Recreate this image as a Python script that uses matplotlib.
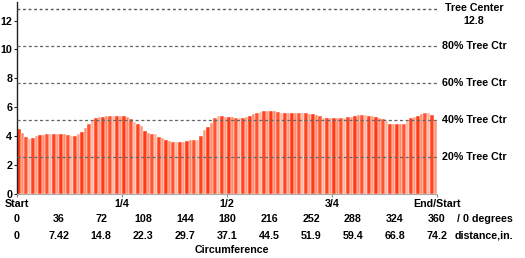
import matplotlib
matplotlib.use("Agg")
import matplotlib.pyplot as plt
import numpy as np

# ---- data ----
step_deg = 3
thickness = [4.46, 4.2, 3.9, 3.76, 3.85, 3.98, 4.04, 4.08, 4.1, 4.12,
             4.14, 4.15, 4.13, 4.1, 4.03, 3.99, 3.99, 4.1, 4.29, 4.55,
             4.85, 5.12, 5.24, 5.3, 5.34, 5.36, 5.37, 5.37, 5.36, 5.36,
             5.35, 5.3, 5.15, 4.98, 4.82, 4.66, 4.36, 4.18, 4.13, 4.1,
             3.95, 3.82, 3.74, 3.66, 3.61, 3.6, 3.6, 3.6, 3.65, 3.69,
             3.69, 3.72, 4.02, 4.38, 4.62, 4.9, 5.25, 5.36, 5.36, 5.34,
             5.3, 5.29, 5.26, 5.23, 5.22, 5.3, 5.4, 5.5, 5.58, 5.64,
             5.7, 5.73, 5.73, 5.73, 5.68, 5.6, 5.57, 5.57, 5.57, 5.57,
             5.58, 5.61, 5.58, 5.54, 5.5, 5.44, 5.38, 5.25, 5.22, 5.22,
             5.22, 5.22, 5.23, 5.27, 5.3, 5.33, 5.38, 5.44, 5.45, 5.45,
             5.4, 5.35, 5.32, 5.26, 5.2, 5.0, 4.83, 4.83, 4.83, 4.83,
             4.85, 5.05, 5.22, 5.28, 5.35, 5.5, 5.6, 5.62, 5.45, 5.0]
tree_center = 12.8
pct_levels = [80, 60, 40, 20]
pct_labels = ["80% Tree Ctr", "60% Tree Ctr", "40% Tree Ctr", "20% Tree Ctr"]
quarter_pos = [0, 90, 180, 270, 360]
quarter_labels = ["Start", "1/4", "1/2", "3/4", "End/Start"]
deg_ticks = [0, 36, 72, 108, 144, 180, 216, 252, 288, 324, 360]
dist_labels = ["0", "7.42", "14.8", "22.3", "29.7", "37.1", "44.5", "51.9", "59.4", "66.8", "74.2"]
yticks = [0, 2, 4, 6, 8, 10, 12]

plt.rcParams['font.family'] = ['Liberation Sans', 'DejaVu Sans']
plt.rcParams['font.weight'] = 'bold'
fs = 7.7

W, H = 525, 258
fig = plt.figure(figsize=(W / 100, H / 100), dpi=100)
x0, x1 = 17, 437
ybot, ytop = 193.5, 2
ax = fig.add_axes([x0 / W, 1 - ybot / H, (x1 - x0) / W, (ybot - ytop) / H])

deg = np.arange(len(thickness)) * step_deg
shades = ['#ff3a14', '#ff8c6e', '#ff5530', '#ffb4a0', '#ff4420', '#ff9a80']
cols = [shades[i % len(shades)] for i in range(len(thickness))]
ax.bar(deg, thickness, width=step_deg, align='edge', color=cols,
       edgecolor='white', linewidth=0.3, zorder=2)

ax.set_xlim(0, 360)
ax.set_ylim(0, (ybot - ytop) / 14.4)

# reference lines
ax.axhline(tree_center, color='#555555', lw=1.0, ls=(0, (2, 2)), zorder=3)
for p in pct_levels:
    ax.axhline(tree_center * p / 100, color='#666666', lw=0.9, ls=(0, (2.5, 2)), zorder=3)

lab_x = (442 - x0) / (x1 - x0) * 360
ctr_x = (474 - x0) / (x1 - x0) * 360
ax.text(ctr_x, tree_center + 0.05, "Tree Center", ha='center', va='center',
        fontsize=fs, clip_on=False)
ax.text(ctr_x, tree_center - 0.85, "12.8", ha='center', va='center',
        fontsize=fs, clip_on=False)
for p, lab in zip(pct_levels, pct_labels):
    ax.text(lab_x, tree_center * p / 100, lab, ha='left', va='center',
            fontsize=fs, clip_on=False)

# axes styling
for s in ['top', 'right']:
    ax.spines[s].set_visible(False)
ax.spines['left'].set_color('#222222')
ax.spines['left'].set_linewidth(1.0)
ax.spines['bottom'].set_color('#aaaaaa')
ax.spines['bottom'].set_linewidth(0.8)

ax.set_yticks(yticks)
ax.set_yticklabels([str(v) for v in yticks], fontsize=fs)
ax.tick_params(axis='y', length=2, pad=1.5, color='#222222')
ax.set_xticks(quarter_pos)
ax.set_xticklabels(quarter_labels, fontsize=fs)
ax.tick_params(axis='x', length=2, pad=2, color='#888888')

tr = ax.get_xaxis_transform()
hpx = ybot - ytop
row1 = -(218.5 - ybot) / hpx
row2 = -(236 - ybot) / hpx
row3 = -(250 - ybot) / hpx
for d, dl in zip(deg_ticks, dist_labels):
    ax.text(d, row1, str(d), ha='center', va='center', fontsize=fs, transform=tr, clip_on=False)
    ax.text(d, row2, dl, ha='center', va='center', fontsize=fs, transform=tr, clip_on=False)
ax.text((485 - x0) / (x1 - x0) * 360, row1, "/ 0 degrees", ha='center', va='center',
        fontsize=fs, transform=tr, clip_on=False)
ax.text((484 - x0) / (x1 - x0) * 360, row2, "distance,in.", ha='center', va='center',
        fontsize=fs, transform=tr, clip_on=False)
ax.text((232 - x0) / (x1 - x0) * 360, row3, "Circumference", ha='center', va='center',
        fontsize=fs, transform=tr, clip_on=False)

fig.savefig("out.png", dpi=100)
